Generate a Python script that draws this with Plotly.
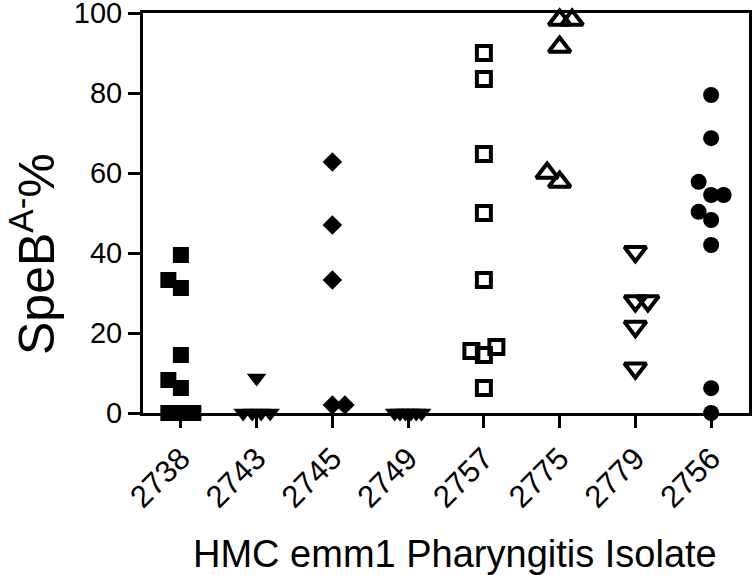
import plotly.graph_objects as go

# ---------------- data ----------------
categories = ["2738", "2743", "2745", "2749", "2757", "2775", "2779", "2756"]
v2738 = [39.5, 33.25, 31.25, 14.5, 8.25, 6.25, 0, 0, 0]
v2743 = [8.75, 0, 0, 0, 0]
v2745 = [62.75, 47, 33.25, 2, 2]
v2749 = [0, 0, 0, 0, 0, 0]
v2757 = [90, 83.5, 64.75, 50, 33.25, 16.5, 15.5, 14.5, 6.25]
v2775 = [98.25, 98.25, 91.5, 60, 57.75]
v2779 = [40.3, 28, 28, 21.6, 11.2]
v2756 = [79.5, 68.7, 57.8, 54.5, 54.5, 50.3, 48.25, 42, 6.2, 0]
y_ticks = [0, 20, 40, 60, 80, 100]

series = [v2738, v2743, v2745, v2749, v2757, v2775, v2779, v2756]

# ---------------- styles ----------------
styles = [
    dict(symbol="square", size=16, lw=0),
    dict(symbol="triangle-down", size=17, lw=0),
    dict(symbol="diamond", size=15, lw=0),
    dict(symbol="triangle-down", size=17, lw=0),
    dict(symbol="square-open", size=14, lw=4),
    dict(symbol="triangle-up-open", size=19, lw=4),
    dict(symbol="triangle-down-open", size=19, lw=4),
    dict(symbol="circle", size=16, lw=0),
]

W, H = 755, 575
ML, MR, MT, MB = 143, 6, 13, 162
plot_w = W - ML - MR
plot_h = H - MT - MB
x_range = [-0.5, len(categories) - 0.5]
px_per_unit = plot_w / (x_range[1] - x_range[0])
STEP_PX = 12.5
TIE_SPAN_PX = 27
Y_COLLIDE = 4.5


def swarm(values):
    """GraphPad-like scatter spreading: returns x offsets (in px)."""
    order = sorted(range(len(values)), key=lambda i: values[i])
    slots = [0] * len(values)
    placed = []
    for i in order:
        v = values[i]
        coll = [j for j in placed if abs(values[j] - v) < Y_COLLIDE]
        if coll:
            used = {slots[j] for j in coll}
            tie = any(values[j] == v for j in coll)
            cand = [0]
            for k in range(1, 20):
                cand += [k, -k] if tie else [-k, k]
            slots[i] = next(c for c in cand if c not in used)
        placed.append(i)
    offs = [s * STEP_PX for s in slots]
    # compress large groups of identical values
    for val in set(values):
        idx = [i for i, v in enumerate(values) if v == val]
        if len(idx) >= 3:
            ss = [slots[i] for i in idx]
            step = min(STEP_PX, TIE_SPAN_PX / (len(idx) - 1))
            mid = (max(ss) + min(ss)) / 2
            for i in idx:
                offs[i] = (slots[i] - mid) * step
    return offs


fig = go.Figure()
for ci, (vals, st) in enumerate(zip(series, styles)):
    offs = swarm(vals)
    xs = [ci + o / px_per_unit for o in offs]
    fig.add_trace(go.Scatter(
        x=xs, y=vals, mode="markers",
        marker=dict(symbol=st["symbol"], size=st["size"], color="black",
                    line=dict(color="black", width=st["lw"])),
        cliponaxis=False, showlegend=False, hoverinfo="skip",
    ))

font_family = "Liberation Sans, Arial, Helvetica, sans-serif"

fig.update_layout(
    width=W, height=H,
    margin=dict(l=ML, r=MR, t=MT, b=MB, autoexpand=False),
    paper_bgcolor="white", plot_bgcolor="white",
    font=dict(family=font_family, color="black"),
    showlegend=False,
    xaxis=dict(
        range=x_range, tickvals=list(range(len(categories))), ticktext=categories,
        tickangle=-45, tickfont=dict(size=31), ticks="outside", ticklen=12,
        tickwidth=3, tickcolor="black", showline=True, linewidth=3,
        linecolor="black", mirror=True, showgrid=False, zeroline=False,
        automargin=False, ticklabeloverflow="allow",
    ),
    yaxis=dict(
        range=[0, 100], tickvals=y_ticks, tickfont=dict(size=29),
        ticks="outside", ticklen=12, tickwidth=3, tickcolor="black",
        showline=True, linewidth=3, linecolor="black", mirror=True,
        showgrid=False, zeroline=False, automargin=False,
        ticklabeloverflow="allow",
    ),
    annotations=[
        dict(text="SpeB<sup>A-</sup>%", xref="paper", yref="paper",
             x=(33 - ML) / plot_w, y=(MT + plot_h - 254) / plot_h,
             xanchor="center", yanchor="middle", textangle=-90,
             showarrow=False, font=dict(size=50)),
        dict(text="HMC emm1 Pharyngitis Isolate", xref="paper", yref="paper",
             x=(455 - ML) / plot_w, y=(MT + plot_h - 554) / plot_h,
             xanchor="center", yanchor="middle", showarrow=False,
             font=dict(size=38)),
    ],
)

fig.write_html(
    "out.html",
    config={"displayModeBar": False, "staticPlot": True},
    post_script="document.body.style.margin='0';document.body.style.padding='0';"
                "document.body.style.overflow='hidden';",
)
